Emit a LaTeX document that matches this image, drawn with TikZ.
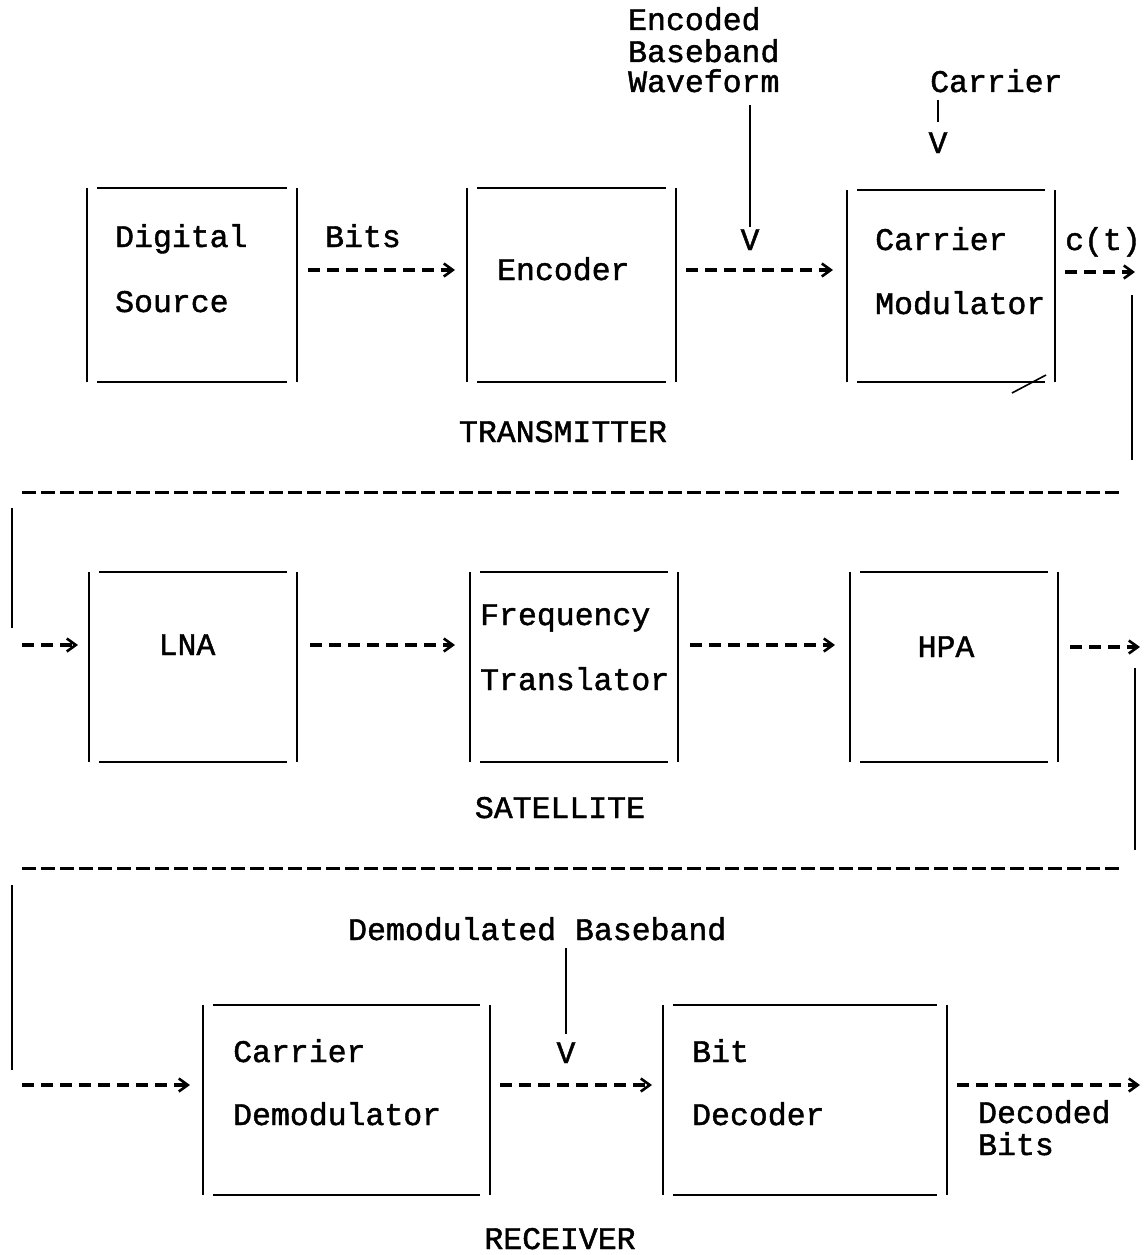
\documentclass[tikz,border=0pt]{standalone}
\usepackage{fontspec}
\usetikzlibrary{arrows.meta,calc}
\newfontfamily\twfont{Liberation Mono}[FakeBold=1.4]
\newcommand{\tw}{\twfont\fontsize{31.5}{38}\selectfont}
\tikzset{
  edge/.style={line width=2.8pt},
  conn/.style={line width=3.4pt, dash pattern=on 12pt off 7pt,
    -{Straight Barb[length=9pt,width=13pt,line width=2.6pt]}},
  sep/.style={line width=3pt, dash pattern=on 14pt off 5pt},
  blk/.style={draw=none, inner sep=0pt, outer sep=0pt},
  txt/.style={font=\tw, inner sep=0pt, anchor=base west},
  ctxt/.style={font=\tw, inner sep=0pt, anchor=base},
}
\begin{document}
\begin{tikzpicture}[x=1pt,y=-1pt]
\useasboundingbox (0,0) rectangle (1144,1255);
% ---------- blocks ----------
\node[blk, minimum width=210pt, minimum height=194pt] (ds)  at (192,285) {};
\node[blk, minimum width=209pt, minimum height=194pt] (enc) at (571.5,285) {};
\node[blk, minimum width=208pt, minimum height=192pt] (cm)  at (951,286) {};
\node[blk, minimum width=208pt, minimum height=190pt] (lna) at (193,667) {};
\node[blk, minimum width=208pt, minimum height=190pt] (ft)  at (574,667) {};
\node[blk, minimum width=208pt, minimum height=190pt] (hpa) at (954,667) {};
\node[blk, minimum width=287pt, minimum height=190pt] (cd)  at (346.5,1100) {};
\node[blk, minimum width=284pt, minimum height=190pt] (bd)  at (805,1100) {};
\foreach \n in {ds,enc,cm,lna,ft,hpa,cd,bd} {
  \draw[edge] (\n.north west) -- (\n.south west);
  \draw[edge] (\n.north east) -- (\n.south east);
  \draw[edge] ([xshift=10pt]\n.north west) -- ([xshift=-10pt]\n.north east);
  \draw[edge] ([xshift=10pt]\n.south west) -- ([xshift=-10pt]\n.south east);
}
% ---------- texts ----------
\node[txt] (l1) at (628,30) {Encoded};
\node[txt] (l2) at (628,62) {Baseband};
\node[txt] (l3) at (628,92) {Waveform};
\node[txt] (lc) at (930,92) {Carrier};
\node[ctxt] (v1) at (750,250) {V};
\node[ctxt] (v2) at (938,153) {V};
\node[txt] (t1) at (115,247) {Digital};
\node[txt] (t2) at (115,312) {Source};
\node[txt] (bits) at (325,247) {Bits};
\node[txt] (t3) at (497,280) {Encoder};
\node[txt] (t4) at (875,250) {Carrier};
\node[txt] (t5) at (875,314) {Modulator};
\node[txt] (ct) at (1065,250) {c(t)};
\node[ctxt] (tx) at (563,442) {TRANSMITTER};
\node[ctxt] (t6) at (187,655) {LNA};
\node[txt] (t7) at (480,625) {Frequency};
\node[txt] (t8) at (480,690) {Translator};
\node[ctxt] (t9) at (946,657) {HPA};
\node[ctxt] (sat) at (560,818) {SATELLITE};
\node[txt] (ldb) at (348,940) {Demodulated Baseband};
\node[ctxt] (v3) at (566,1063) {V};
\node[txt] (t10) at (233,1062) {Carrier};
\node[txt] (t11) at (233,1125) {Demodulator};
\node[txt] (t12) at (692,1062) {Bit};
\node[txt] (t13) at (692,1125) {Decoder};
\node[txt] (t14) at (978,1123) {Decoded};
\node[txt] (t15) at (978,1155) {Bits};
\node[ctxt] (rx) at (560,1249) {RECEIVER};
% ---------- label leaders ----------
\coordinate (a1) at (750,105);
\coordinate (a2) at (938,100);
\coordinate (a3) at (566,948);
\draw[edge] (a1) -- ([yshift=2pt]v1.north);
\draw[edge, shorten >=10pt] (a2) -- (v2.north);
\draw[edge] (a3) -- ([yshift=8pt]v3.north);
% ---------- connectors ----------
\draw[conn, shorten <=11pt, shorten >=12pt] ($(ds.east)+(0,-15)$) -- ($(enc.west)+(0,-15)$);
\draw[conn, shorten <=10pt, shorten >=14pt] ($(enc.east)+(0,-15)$) -- ($(cm.west)+(0,-16)$);
\coordinate (o1) at (1135,272);
\draw[conn, shorten <=10pt] ($(cm.east)+(0,-14)$) -- (o1);
\coordinate (r1a) at (1132,295); \coordinate (r1b) at (1132,460);
\draw[edge] (r1a) -- (r1b);
\coordinate (s1a) at (22,492); \coordinate (s1b) at (1122,492);
\draw[sep] (s1a) -- (s1b);
\coordinate (l1a) at (12,508); \coordinate (l1b) at (12,628);
\draw[edge] (l1a) -- (l1b);
\coordinate (i2) at (22,645);
\draw[conn, shorten >=11pt] (i2) -- ($(lna.west)+(0,-22)$);
\draw[conn, shorten <=13pt, shorten >=15pt] ($(lna.east)+(0,-22)$) -- ($(ft.west)+(0,-22)$);
\draw[conn, shorten <=12pt, shorten >=15pt] ($(ft.east)+(0,-22)$) -- ($(hpa.west)+(0,-22)$);
\coordinate (o2) at (1140,647);
\draw[conn, shorten <=12pt] ($(hpa.east)+(0,-20)$) -- (o2);
\coordinate (r2a) at (1135,668); \coordinate (r2b) at (1135,850);
\draw[edge] (r2a) -- (r2b);
\coordinate (s2a) at (22,868); \coordinate (s2b) at (1122,868);
\draw[sep] (s2a) -- (s2b);
\coordinate (l2a) at (12,885); \coordinate (l2b) at (12,1070);
\draw[edge] (l2a) -- (l2b);
\coordinate (i3) at (22,1085);
\draw[conn, shorten >=13pt] (i3) -- ($(cd.west)+(0,-15)$);
\draw[conn, shorten <=10pt, shorten >=11pt] ($(cd.east)+(0,-15)$) -- ($(bd.west)+(0,-15)$);
\coordinate (o3) at (1140,1085);
\draw[conn, shorten <=10pt] ($(bd.east)+(0,-15)$) -- (o3);
% scratch mark at modulator corner
\coordinate (k1) at (1012,393); \coordinate (k2) at (1046,375);
\draw[line width=1.6pt] (k1) -- (k2);
\end{tikzpicture}
\end{document}
